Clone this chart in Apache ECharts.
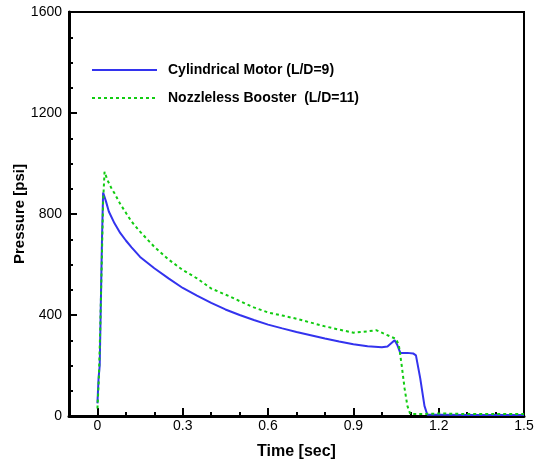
<!DOCTYPE html>
<html><head><meta charset="utf-8">
<script src="https://cdn.jsdelivr.net/npm/echarts@6/dist/echarts.min.js"></script>
<style>html,body{margin:0;padding:0;background:#fff}#c{width:539px;height:464px}</style>
</head><body><div id="c"></div>
<script>
const seriesNames = ['Cylindrical Motor (L/D=9)', 'Nozzleless Booster  (L/D=11)'];
const cylTime = [0.000,0.004,0.008,0.012,0.016,0.020,0.030,0.040,0.060,0.080,0.100,0.120,0.150,0.200,0.250,0.300,0.350,0.400,0.450,0.500,0.550,0.600,0.650,0.700,0.750,0.800,0.850,0.900,0.950,1.000,1.020,1.045,1.055,1.065,1.090,1.110,1.120,1.135,1.150,1.160,1.200,1.300,1.400,1.500];
const cylPressure = [50,150,200,450,700,885,850,810,763,725,695,668,630,585,545,507,477,448,422,400,380,362,347,333,320,307,295,284,276,272,275,300,280,250,250,248,240,150,40,5,5,4,4,4];
const nozTime = [0.000,0.005,0.010,0.015,0.020,0.025,0.035,0.050,0.060,0.080,0.100,0.120,0.150,0.200,0.250,0.300,0.350,0.400,0.468,0.500,0.550,0.600,0.650,0.700,0.750,0.800,0.850,0.900,0.950,0.980,1.000,1.030,1.050,1.060,1.070,1.080,1.090,1.100,1.150,1.200,1.300,1.400,1.500];
const nozPressure = [30,150,350,600,850,967,935,900,882,840,805,770,730,670,620,578,545,505,472,455,430,410,398,385,370,355,342,330,335,340,330,315,305,280,200,110,40,8,8,10,8,8,8];
const xMajorTicks = [0,0.3,0.6,0.9,1.2,1.5];
const xMinorTicks = [0,0.1,0.2,0.3,0.4,0.5,0.6,0.7,0.8,0.9,1.0,1.1,1.2,1.3,1.4,1.5];

const zip = (a,b) => a.map((v,i)=>[v,b[i]]);
const font = 'Liberation Sans, Arial, sans-serif';
const chart = echarts.init(document.getElementById('c'), null, {renderer:'canvas'});
chart.setOption({
  animation:false,
  backgroundColor:'#fff',
  grid:{left:69,right:15,top:12,bottom:48,containLabel:false,outerBoundsMode:'none',show:true,borderColor:'#000',borderWidth:2,backgroundColor:'transparent'},
  legend:{
    orient:'vertical', left:86, top:58, itemWidth:65, itemHeight:14, itemGap:14,
    itemStyle:{opacity:0},
    textStyle:{fontFamily:font,fontSize:14,lineHeight:14,fontWeight:'bold',color:'#000',padding:[0,0,0,6]},
    data:[{name:seriesNames[0]},{name:seriesNames[1]}]
  },
  xAxis:[{
    type:'value', min:-0.1, max:1.5,
    axisLine:{show:true,onZero:false,lineStyle:{color:'#000',width:3}},
    axisTick:{show:true,inside:true,length:4,customValues:xMinorTicks,lineStyle:{color:'#000',width:2}},
    axisLabel:{customValues:xMajorTicks,margin:3,fontFamily:font,fontSize:14,color:'#000',
      formatter:v=>String(+v.toFixed(1))},
    splitLine:{show:false},
    name:'Time [sec]', nameLocation:'middle', nameGap:28, nameMoveOverlap:false,
    nameTextStyle:{fontFamily:font,fontSize:16,fontWeight:'bold',color:'#000'}
  },{
    type:'value', min:-0.1, max:1.5, position:'bottom',
    axisLine:{show:false},
    axisTick:{show:true,inside:true,length:8,customValues:xMajorTicks,lineStyle:{color:'#000',width:2}},
    axisLabel:{show:false}, splitLine:{show:false}
  }],
  yAxis:{
    type:'value', min:0, max:1600, interval:400,
    axisLine:{show:true,onZero:false,lineStyle:{color:'#000',width:3}},
    axisTick:{show:true,inside:true,length:8,lineStyle:{color:'#000',width:2}},
    minorTick:{show:true,splitNumber:4,length:4,lineStyle:{color:'#000',width:2}},
    axisLabel:{margin:7,fontFamily:font,fontSize:14,color:'#000',formatter:v=>String(v)},
    splitLine:{show:false},
    name:'Pressure [psi]', nameLocation:'middle', nameGap:42, nameMoveOverlap:false,
    nameTextStyle:{fontFamily:font,fontSize:15,fontWeight:'bold',color:'#000'}
  },
  series:[{
    name:seriesNames[0], type:'line', data:zip(cylTime,cylPressure), showSymbol:false, symbol:'none',
    lineStyle:{color:'#3333ee',width:2}, itemStyle:{color:'#3333ee'}, z:3
  },{
    name:seriesNames[1], type:'line', data:zip(nozTime,nozPressure), showSymbol:false, symbol:'none',
    lineStyle:{color:'#11cc11',width:2,type:[3,3]}, itemStyle:{color:'#11cc11'}, z:4
  }]
});
</script></body></html>
